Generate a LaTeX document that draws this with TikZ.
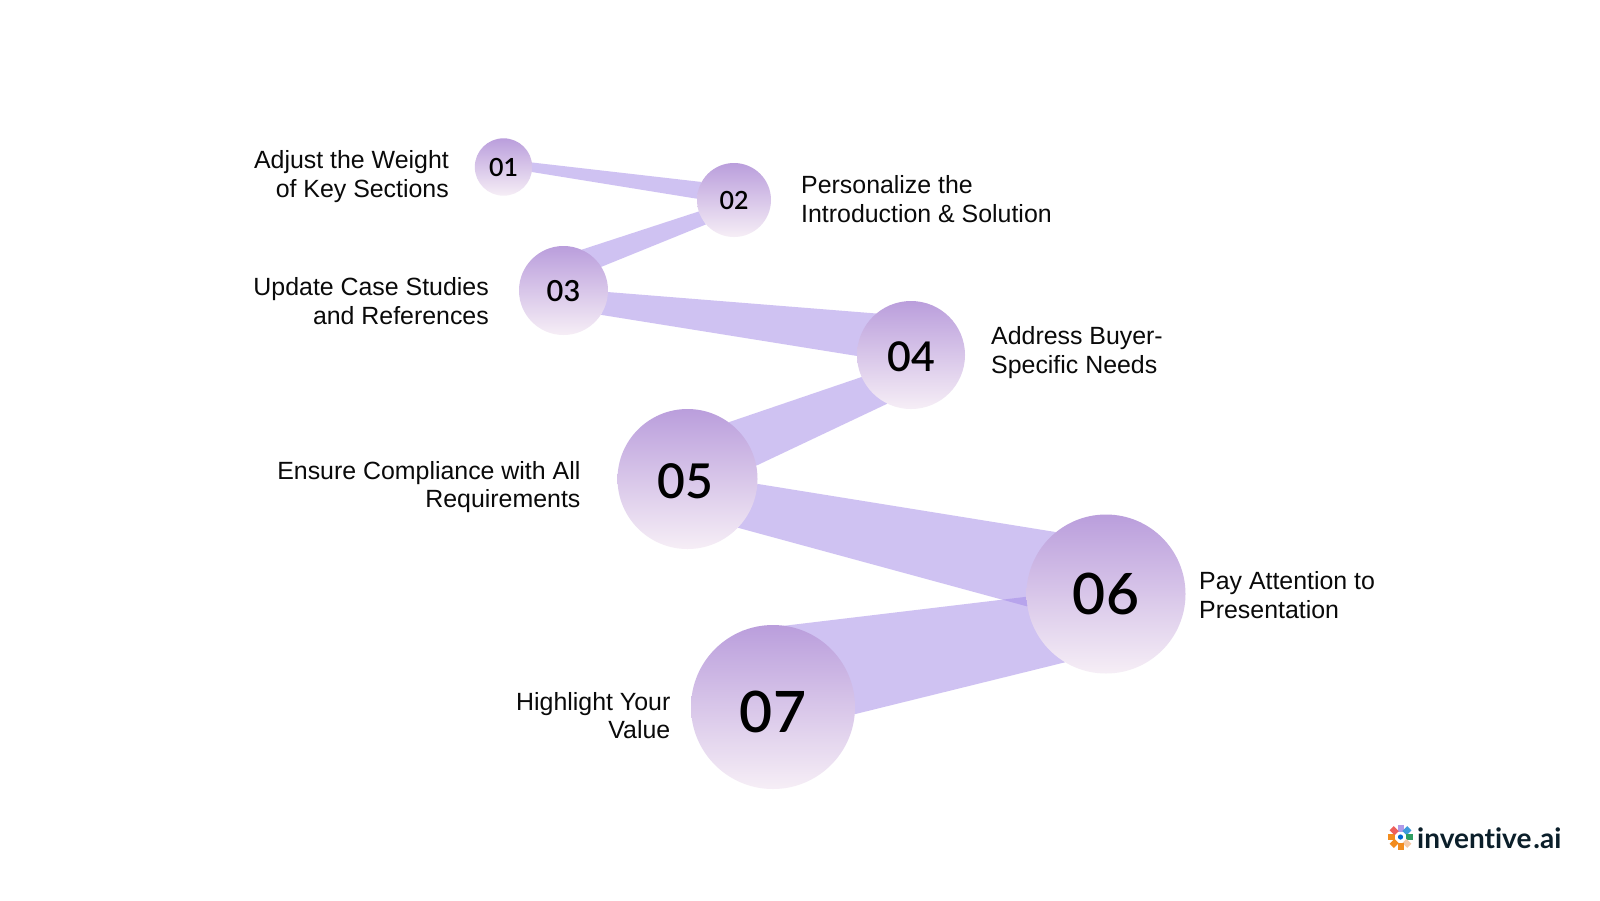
\documentclass[tikz,border=0pt]{standalone}
\usepackage{fontspec}
\usetikzlibrary{backgrounds}
\setmainfont{Liberation Sans}
\newfontfamily\numfont{Lato Semibold}
\newfontfamily\logofont{Lato Bold}
\definecolor{bandc}{HTML}{A187E7}
\definecolor{topc}{HTML}{BA9EDC}
\definecolor{botc}{HTML}{F6EEF6}
\definecolor{ink}{HTML}{0A0A0A}
\definecolor{logoink}{HTML}{0B1F2A}
\tikzset{
  num/.style={circle,draw=none,inner sep=0pt,minimum size=#1,top color=topc,bottom color=botc,text=black},
  band/.style={fill=bandc,fill opacity=.5,draw=none},
  lab/.style={inner sep=0pt,text=ink,font=\fontsize{24.9}{28.6}\selectfont},
  labr/.style={lab,anchor=east,align=right},
  labl/.style={lab,anchor=west,align=left}
}
\newcommand{\numtxt}[3]{\dimen0=#1pt \dimen0=.36\dimen0 \advance\dimen0 by #2pt \raisebox{-\dimen0}[0pt][0pt]{\numfont\fontsize{#1}{#1}\selectfont #3}}
\begin{document}
\begin{tikzpicture}[x=1pt,y=-1pt]
\useasboundingbox (0,0) rectangle (1600,900);
\node[num=57.4pt] (n1) at (503.5,167) {\numtxt{25}{0.4}{01}};
\node[num=74pt] (n2) at (734,200) {\numtxt{25}{0}{02}};
\node[num=89pt] (n3) at (563.5,290.5) {\numtxt{29}{0.5}{03}};
\node[num=108pt] (n4) at (911,355) {\numtxt{41}{2}{04}};
\node[num=140pt] (n5) at (687.5,479) {\hspace{-4pt}\numtxt{48}{2}{05}};
\node[num=159pt] (n6) at (1106,594) {\numtxt{57}{0}{06}};
\node[num=164pt] (n7) at (773,707) {\numtxt{57}{5}{07}};
\begin{scope}[on background layer]
\fill[white] (0,0) rectangle (1600,900);
\fill[band] (n1.9) -- (n2.151) -- (n2.178) -- (n1.-10) -- cycle;
\fill[band] (n2.198) -- (n3.66) -- (n3.32) -- (n2.221) -- cycle;
\fill[band] (n3.-2) -- (n4.130) -- (n4.181) -- (n3.-33.5) -- cycle;
\fill[band] (n4.204.5) -- (n5.54) -- (n5.11) -- (n4.244) -- cycle;
\fill[band] (n5.-4) -- (n6.129) -- (n6.189) -- (n5.-44.7) -- cycle;
\fill[band] (n6.182) -- (n7.112) -- (n7.-5) -- (n6.239) -- cycle;
\end{scope}
\node[labr] (t1) at (449,176.5) {Adjust the Weight\\of Key Sections};
\node[labl] (t2) at (801,199) {Personalize the\\Introduction \& Solution};
\node[labr] (t3) at (489,301) {Update Case Studies\\and References};
\node[labl] (t4) at (991,352.5) {Address Buyer-\\Specific Needs};
\node[labr] (t5) at (580.6,487) {Ensure Compliance with All\\Requirements};
\node[labl] (t6) at (1199,595) {Pay Attention to\\Presentation};
\node[labr] (t7) at (670.5,715.5) {Highlight Your\\Value};
% logo
\node[anchor=base west,inner sep=0pt,text=logoink,font=\logofont\fontsize{28}{28}\selectfont] (logo) at (1417,848) {invent\kern0pt ive\hspace{2pt}.ai};
\foreach \a/\c in {90/B09AE8,45/3E9BDB,0/2E9E62,-45/F5C9A6,-90/F28C1E,-135/F28C1E,180/F28C1E,135/EE5F5B}{
  \definecolor{pc}{HTML}{\c}
  \fill[pc,rotate around={\a:(1400.5,837)}] (1400.5,837) ++(5.5,-3) rectangle ++(7,6);
}
\fill[black!30!blue!60!cyan] (1400.5,837) circle (2.6);
\end{tikzpicture}
\end{document}
